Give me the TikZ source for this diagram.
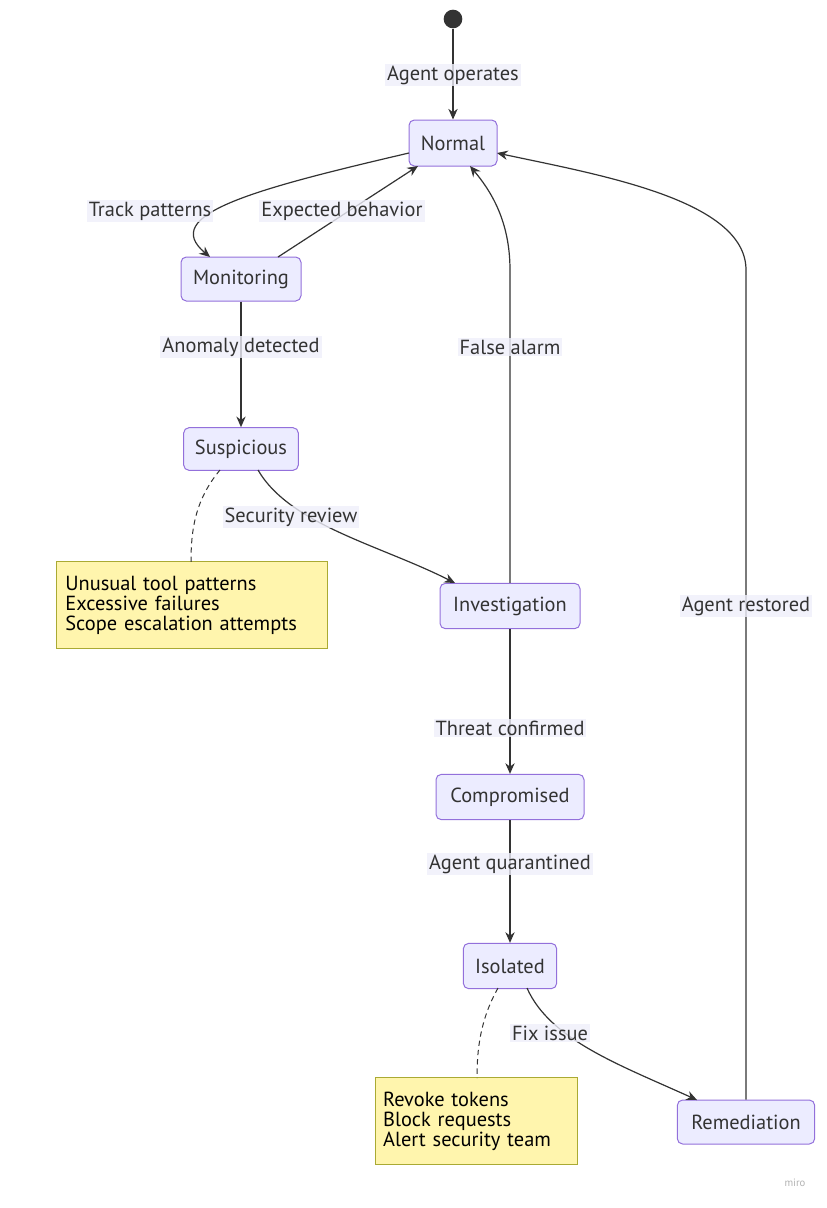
\documentclass[tikz,border=0pt]{standalone}
\usepackage{fontspec}
\setmainfont{PT Sans}
\usetikzlibrary{arrows.meta}
\definecolor{nfill}{HTML}{ECECFF}
\definecolor{nbord}{HTML}{9370DB}
\definecolor{tfill}{HTML}{FFF5AD}
\definecolor{tbord}{HTML}{AAAA33}
\definecolor{lbg}{HTML}{EFEFFA}
\definecolor{txt}{HTML}{333333}
\definecolor{ln}{HTML}{333333}
\begin{document}
\begin{tikzpicture}[x=0.75pt,y=-0.75pt,
  font=\fontsize{15.3}{17}\selectfont,
  st/.style={draw=nbord,fill=nfill,rounded corners=4pt,line width=0.75pt,text=txt,inner sep=0pt},
  nt/.style={draw=tbord,fill=tfill,line width=0.75pt,align=left,inner sep=0pt,text=black},
  lab/.style={fill=lbg,fill opacity=0.8,text opacity=1,text=txt,inner sep=1.5pt},
  e/.style={draw=ln,line width=0.9pt,-{Stealth[length=8pt,width=7pt]}},
  d/.style={draw=ln,line width=0.75pt,dash pattern=on 4pt off 3pt}]
\useasboundingbox (0,0) rectangle (827,1208);
\node[circle,fill=ln,minimum size=14pt,inner sep=0pt] (s) at (453,19) {};
\node[st,minimum width=66pt,minimum height=34.5pt] (nor) at (453,143) {Normal};
\node[st,minimum width=90pt,minimum height=33pt] (mon) at (241,279) {Monitoring};
\node[st,minimum width=86pt,minimum height=32pt] (sus) at (241,449) {Suspicious};
\node[st,minimum width=105pt,minimum height=34pt] (inv) at (510,606) {Investigation};
\node[st,minimum width=111pt,minimum height=34pt] (com) at (510,797) {Compromised};
\node[st,minimum width=70pt,minimum height=34pt] (iso) at (510,966) {Isolated};
\node[st,minimum width=103pt,minimum height=33pt] (rem) at (746,1122) {Remediation};
\node[nt,minimum width=203pt,minimum height=65pt,text width=190pt] (n1) at (192,605) {Unusual tool patterns\\[-2pt]Excessive failures\\[-2pt]Scope escalation attempts};
\node[nt,minimum width=152pt,minimum height=65pt,text width=140pt] (n2) at (476.5,1121) {Revoke tokens\\[-2pt]Block requests\\[-2pt]Alert security team};
\node[text=gray!60,font=\fontsize{8}{9}\selectfont] (miro) at (795,1183) {miro};

\coordinate (a1) at (409,153);
\coordinate (a2) at (210,257);
\draw[e] (s) -- (nor);
\node[lab] at (453,75) {Agent operates};
\draw[e] (a1) .. controls (250,190) and (160,215) .. (a2);
\node[lab] at (150,211) {Track patterns};
\draw[e] (278,257) -- (418,166);
\node[lab] at (342,211) {Expected behavior};
\draw[e] (mon) -- (sus);
\node[lab] at (241,347) {Anomaly detected};
\draw[e] (258,470) .. controls (290,525) and (380,545) .. (455,583);
\node[lab] at (291,517) {Security review};
\draw[e] (inv.north) -- (510,270) .. controls (510,220) and (490,190) .. (470,166);
\node[lab] at (510,347) {False alarm};
\draw[e] (inv) -- (com);
\node[lab] at (510,728) {Threat confirmed};
\draw[e] (com) -- (iso);
\node[lab] at (510,864) {Agent quarantined};
\draw[e] (527,988) .. controls (550,1040) and (620,1065) .. (697,1100);
\node[lab] at (550,1033) {Fix issue};
\draw[e] (rem.north) -- (746,270) .. controls (746,200) and (600,175) .. (497,153);
\node[lab] at (746,606) {Agent restored};
\draw[d] (220,470) .. controls (195,500) and (191,530) .. (191,562);
\draw[d] (498,988) .. controls (480,1020) and (477,1050) .. (477,1078);
\end{tikzpicture}
\end{document}
